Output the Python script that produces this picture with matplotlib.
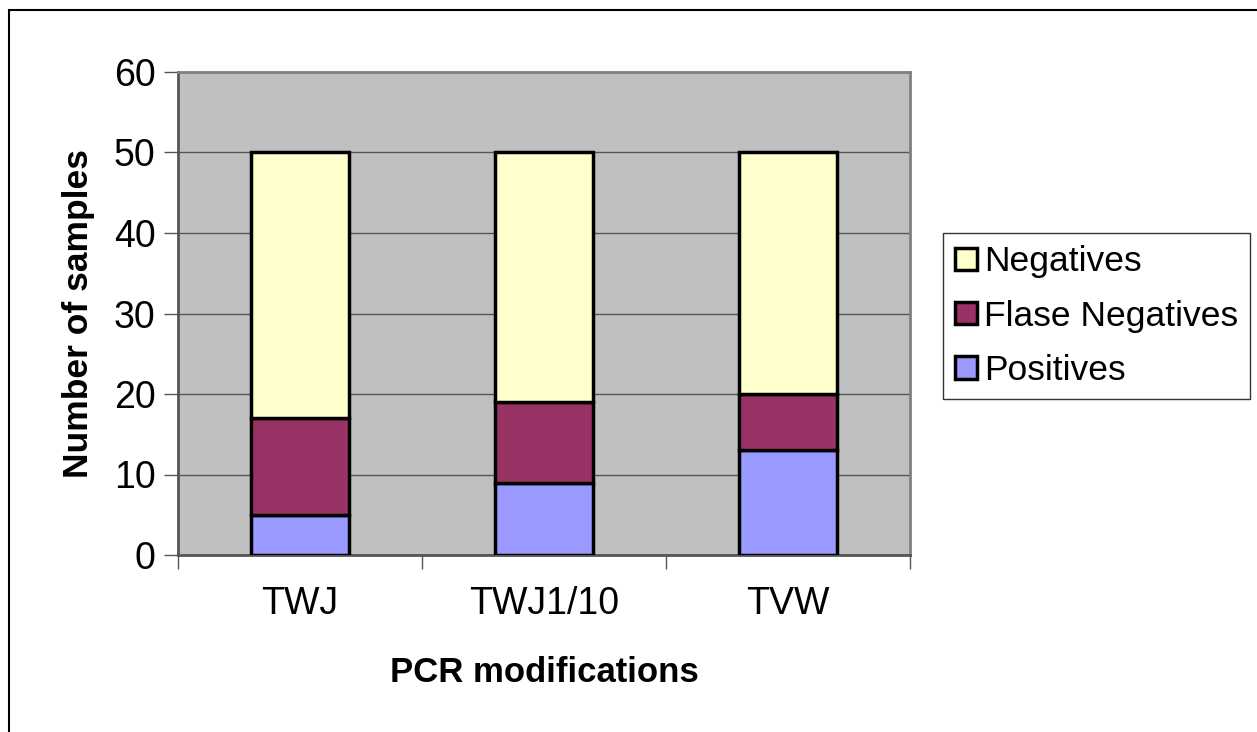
import matplotlib
matplotlib.use("Agg")
import matplotlib.pyplot as plt
from matplotlib.patches import Rectangle
import numpy as np

plt.rcParams['font.family'] = ['Liberation Sans', 'DejaVu Sans']

categories = ["TWJ", "TWJ1/10", "TVW"]
positives = [5, 9, 13]
false_negatives = [12, 10, 7]
negatives = [33, 31, 30]

W, H = 1257, 732
fig = plt.figure(figsize=(W/100, H/100), dpi=100)
fig.patch.set_facecolor("white")

# outer chart border (extends past right/bottom edges)
fig.patches.append(Rectangle((9/W, -0.1), 1.2, (H-10)/H + 0.1, transform=fig.transFigure,
                             fill=False, edgecolor="black", linewidth=1.5))

ax = fig.add_axes([178/W, 1-555/H, (910-178)/W, (555-72)/H])
ax.set_facecolor("#C0C0C0")

x = np.arange(len(categories))
bw = 0.4
pos = np.array(positives)
fn = np.array(false_negatives)
neg = np.array(negatives)
ax.bar(x, pos, bw, color="#9999FF", edgecolor="black", linewidth=2.5, zorder=3, label="Positives")
ax.bar(x, fn, bw, bottom=pos, color="#993366", edgecolor="black", linewidth=2.5, zorder=3, label="Flase Negatives")
ax.bar(x, neg, bw, bottom=pos+fn, color="#FFFFCC", edgecolor="black", linewidth=2.5, zorder=3, label="Negatives")

ax.set_xlim(-0.5, 2.5)
ax.set_ylim(0, 60)
ax.set_yticks(range(0, 61, 10))
ax.yaxis.grid(True, color="#555555", linewidth=1)
ax.set_axisbelow(True)
ax.tick_params(axis='y', labelsize=27, length=10, width=1, color="#555555", pad=6)
ax.set_xticks(x)
ax.set_xticklabels(categories)
ax.tick_params(axis='x', which='major', length=0, labelsize=27, pad=22)
ax.set_xticks([-0.5, 0.5, 1.5, 2.5], minor=True)
ax.tick_params(axis='x', which='minor', length=10, width=1, color="#555555")
for s in ax.spines.values():
    s.set_color("#808080")
    s.set_linewidth(2)
ax.spines['left'].set_color("#555555")
ax.spines['bottom'].set_color("#555555")

ax.set_ylabel("Number of samples", fontsize=25.5, fontweight="bold", labelpad=14)
ax.set_xlabel("PCR modifications", fontsize=25, fontweight="bold", labelpad=25)

handles, labels = ax.get_legend_handles_labels()
leg = fig.legend(handles[::-1], labels[::-1], loc="upper left",
                 bbox_to_anchor=(943/W, 1-233/H), fontsize=25.5,
                 frameon=True, fancybox=False, edgecolor="black",
                 handlelength=0.6, handleheight=0.6, handletextpad=0.2,
                 borderpad=0.35, labelspacing=0.6, borderaxespad=0)
leg.get_frame().set_linewidth(1)

fig.savefig("out.png", dpi=100)
